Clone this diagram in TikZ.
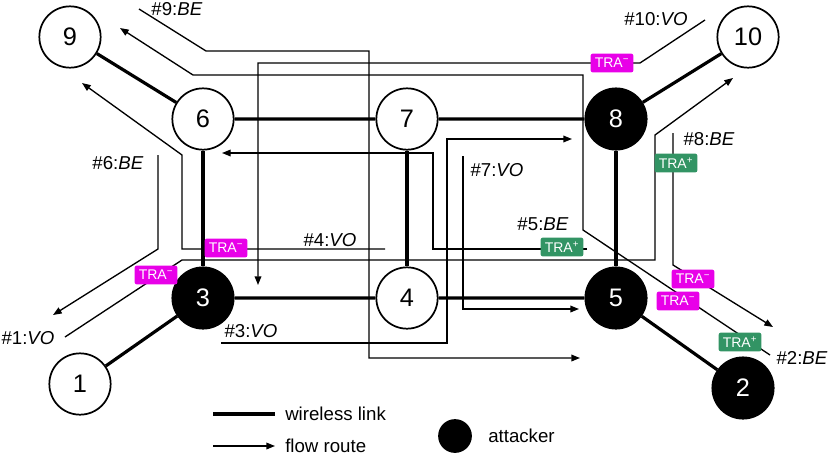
\documentclass[tikz,border=0pt]{standalone}
\usepackage{fontspec}
\setmainfont{Liberation Sans}
\usetikzlibrary{arrows.meta}
\definecolor{tramag}{RGB}{232,0,232}
\definecolor{tragreen}{RGB}{50,148,100}
\begin{document}
\begin{tikzpicture}[x=0.75pt,y=-0.75pt,
  host/.style={circle,draw,line width=1.3pt,minimum size=46pt,inner sep=0pt,font=\fontsize{19}{19}\selectfont},
  attacker/.style={host,fill=black,text=white},
  link/.style={line width=2.4pt},
  route/.style={line width=1pt,-{Triangle[length=6.5pt,width=5pt]}},
  tag/.style={inner sep=0pt,font=\fontsize{14}{14}\selectfont},
  traneg/.style={fill=tramag,text=white,rounded corners=1.5pt,inner sep=0pt,minimum width=32pt,minimum height=14pt,font=\fontsize{10.5}{10.5}\selectfont},
  trapos/.style={traneg,fill=tragreen}]
\useasboundingbox (0,0) rectangle (830,457);
\node[host] (n9) at (70,37) {9};
\node[host] (n6) at (203,119) {6};
\node[host] (n7) at (407,119) {7};
\node[attacker] (n8) at (616,119) {8};
\node[host] (n10) at (748,37) {10};
\node[attacker] (n3) at (203,298) {3};
\node[host] (n4) at (407,298) {4};
\node[attacker] (n5) at (616,298) {5};
\node[host] (n1) at (80,384) {1};
\node[attacker] (n2) at (743,388) {2};
\draw[link] (n9) -- (n6) (n6) -- (n7) (n7) -- (n8) (n8) -- (n10);
\draw[link] (n6) -- (n3) (n7) -- (n4) (n8) -- (n5);
\draw[link] (n1) -- (n3) (n3) -- (n4) (n4) -- (n5) (n5) -- (n2);
\coordinate (s9) at (139,9);
\coordinate (e9) at (580,358);
\draw[route] (s9) -- (206,51) -- (369,51) |- (e9);
\coordinate (s2) at (770,355);
\coordinate (e2) at (120,28);
\draw[route] (s2) -- (583,230) |- (193,75) -- (e2);
\coordinate (s10) at (705,20);
\coordinate (e10) at (258,285);
\draw[route] (s10) -- (640,63) -| (e10);
\coordinate (s4) at (385,249);
\coordinate (e4) at (82,83);
\draw[route] (s4) -| (182,155) -- (e4);
\coordinate (s6) at (158,155);
\coordinate (e6) at (53,315);
\draw[route] (s6) -- (158,249) -- (e6);
\coordinate (s1) at (65,337);
\coordinate (e1) at (733,78);
\draw[route] (s1) -- (182,260) -| (655,135) -- (e1);
\coordinate (s3) at (221,343);
\coordinate (e3) at (572,139);
\draw[route] (s3) -| (447,139) -- (e3);
\coordinate (s7) at (463,156);
\coordinate (e7) at (579,309);
\draw[route] (s7) |- (e7);
\coordinate (s5) at (587,249);
\coordinate (e5) at (222,153);
\draw[route] (s5) -| (433,153) -- (e5);
\coordinate (s8) at (673,133);
\coordinate (e8) at (773,327);
\draw[route] (s8) -- (673,265) -- (e8);
\node[traneg] (t10) at (612,63) {TRA\textsuperscript{−}};
\node[trapos] (t8a) at (676,163) {TRA\textsuperscript{+}};
\node[traneg] (t4) at (226,248) {TRA\textsuperscript{−}};
\node[traneg] (t1) at (156,275) {TRA\textsuperscript{−}};
\node[trapos] (t5) at (562,247) {TRA\textsuperscript{+}};
\node[traneg] (t8b) at (693,279) {TRA\textsuperscript{−}};
\node[traneg] (t2a) at (678,301) {TRA\textsuperscript{−}};
\node[trapos] (t2b) at (740,342) {TRA\textsuperscript{+}};
\node[tag] (l9) at (177,9) {\#9:\textit{BE}};
\node[tag] (l10) at (656,19) {\#10:\textit{VO}};
\node[tag] (l8) at (709,139) {\#8:\textit{BE}};
\node[tag] (l6) at (118,163) {\#6:\textit{BE}};
\node[tag] (l7) at (497,170) {\#7:\textit{VO}};
\node[tag] (l5) at (543,224) {\#5:\textit{BE}};
\node[tag] (l4) at (330,240) {\#4:\textit{VO}};
\node[tag] (l1) at (28,338) {\#1:\textit{VO}};
\node[tag] (l3) at (251,331) {\#3:\textit{VO}};
\node[tag] (l2) at (802,358) {\#2:\textit{BE}};
\coordinate (k1) at (213,414);
\coordinate (k2) at (275,414);
\draw[link] (k1) -- (k2);
\node[tag,anchor=west] (kl) at (285,414) {wireless link};
\coordinate (k3) at (213,446);
\coordinate (k4) at (275,446);
\draw[route] (k3) -- (k4);
\node[tag,anchor=west] (kr) at (285,446) {flow route};
\node[attacker,minimum size=24pt] (ka) at (455,436) {};
\node[tag,anchor=west] (kat) at (488,436) {attacker};
\end{tikzpicture}
\end{document}
